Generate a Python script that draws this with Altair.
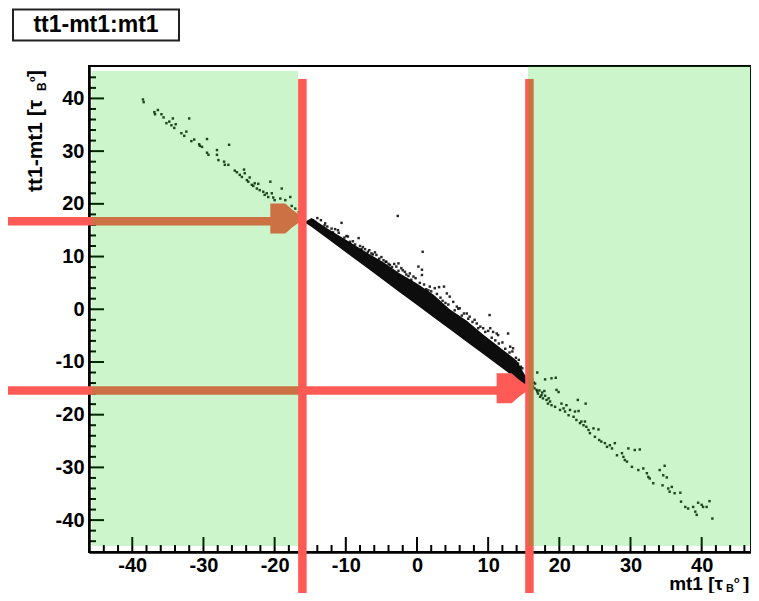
import altair as alt
import pandas as pd

# ---------------- data ----------------
# scattered points (mt1, tt1-mt1)
pts_x = [-38.5, -38.4, -36.9, -36.8, -36.4, -35.9, -35.6, -35.2, -34.8, -34.3, -34.5, -34.1, -33.9,
         -32.0, -33.1, -32.7, -32.4, -31.7, -31.3, -30.6, -30.5, -30.2, -29.5, -29.5, -29.3, -28.1,
         -28.1, -27.9, -27.1, -27.0, -26.5, -26.4, -25.6, -25.3, -24.9, -24.6, -24.3, -24.2, -23.9,
         -23.7, -23.5, -23.2, -23.0, -22.8, -22.5, -22.3, -22.1, -21.6, -21.4, -21.1, -20.9, -20.6,
         -20.4, -20.2, -20.0, -19.0, -19.2, -18.5, -17.8, -17.6, -17.1,
         -18.2, -17.5, -16.9, -16.6, -16.3, -15.9, -15.6, -15.9,
         -14.6, -14.3, -12.9, -12.6, -11.5, -10.6, -11.1, -9.7, -8.2, -9.4, -7.8, -7.3, -6.7, -6.4,
         -5.7, -4.7, -4.3, -3.8, -2.9, -2.6, -2.2, -1.7, -1.0, -0.5, 0.2, 0.7, 0.7, 0.8, -2.7, 1.8,
         2.5, 3.1, 3.8, 4.2, 4.6, 5.1, 5.6, 6.0, 7.0, 7.4, 8.4, 8.9, 9.3, 10.2, 10.3, 10.7, 11.2,
         11.4, 12.8, 13.1, 13.5, 13.9, 14.2, 14.6,
         -14.0, -13.5, -13.0, -12.0, -11.8, -11.0, -10.2, -9.9, -9.0, -8.7, -8.0, -7.6, -6.9, -6.2,
         -5.9, -5.3, -5.0, -4.4, -4.0, -3.5, -3.2, -2.6, -2.0, -1.5, -1.2, -0.8, -0.2, 0.4, 1.0,
         1.3, 1.6, 2.0, 2.8, 3.3, 3.6, 4.0, 4.4, 5.3, 5.8, 6.3, 6.6, 7.2, 7.8, 8.1, 8.6, 9.6, 10.0,
         10.5, 11.0, 11.5, 12.0, 12.4, 13.0, 13.4, 14.3, 14.8,
         16.9, 18.0, 18.9, 19.5, 16.6, 16.8, 17.0, 17.3, 17.5, 17.7, 18.2, 18.4, 18.7, 18.9, 19.4,
         19.6, 19.9, 20.1, 20.3, 20.6, 20.8, 21.0, 21.3, 21.5, 22.0, 22.2, 22.4, 22.6, 22.7, 22.9,
         23.1, 23.4, 23.6, 23.7, 23.8, 24.1, 24.3, 24.8, 25.0, 25.5, 25.6, 25.9, 26.4, 26.7, 27.1,
         27.4, 27.8, 28.1, 28.8, 29.0, 29.2, 29.5, 29.7, 30.2, 30.6, 31.3, 31.1, 31.8, 32.3, 32.5,
         32.7, 33.2, 34.1, 34.5, 34.6, 34.8, 35.1, 35.3, 35.5, 35.8, 36.2, 37.0, 37.1, 37.7, 38.1,
         38.8, 39.1, 39.3, 39.5, 40.0, 40.2, 40.7, 41.1, 41.5,
         16.3, 16.5, 16.9, 17.2, 17.6, 18.0, 18.5, 16.2, 16.4, 17.9]
pts_y = [39.8, 39.3, 37.4, 37.0, 37.8, 37.0, 36.4, 35.3, 35.6, 36.2, 34.9, 34.4, 35.1,
         36.2, 33.4, 32.9, 33.7, 31.9, 32.2, 31.3, 31.0, 30.8, 32.3, 29.7, 29.3, 29.3,
         30.2, 28.3, 28.0, 27.4, 27.4, 31.2, 26.3, 26.0, 25.5, 25.1, 26.5, 25.8, 24.5,
         24.2, 25.0, 23.6, 23.4, 23.9, 22.9, 23.8, 22.6, 22.3, 21.7, 22.0, 21.3, 24.2,
         22.0, 21.2, 20.7, 22.9, 21.0, 20.7, 21.3, 19.6, 19.1,
         19.0, 18.3, 17.8, 18.4, 17.2, 16.9, 16.5, 17.6,
         16.9, 16.6, 16.3, 15.7, 15.2, 16.4, 15.0, 13.8, 13.5, 12.8, 11.4, 11.4, 11.2, 10.6,
         10.3, 9.3, 9.0, 8.4, 8.1, 8.7, 7.8, 7.1, 6.8, 6.2, 8.1, 7.5, 6.5, 10.9, 17.7, 4.3,
         4.0, 4.2, 4.3, 3.0, 2.4, 1.4, 0.5, 0.2, -0.8, -1.4, -2.7, -3.3, -3.6, -1.1, -3.6, -4.3, -4.6,
         -4.9, -4.6, -7.1, -7.4, -9.2, -10.3, -10.9,
         17.3, 16.9, 15.9, 15.3, 14.6, 14.5, 13.6, 13.9, 12.9, 12.3, 12.0, 11.8, 10.9, 10.4,
         10.8, 9.6, 9.9, 9.0, 8.6, 8.0, 8.6, 7.3, 7.4, 6.6, 6.3, 5.6, 5.9, 5.0, 4.7,
         3.8, 3.6, 3.4, 2.9, 2.2, 1.6, 1.2, 0.9, -0.2, 0.1, -1.2, -0.8, -1.8, -2.4, -2.0, -3.6, -4.3, -4.1,
         -5.4, -5.9, -6.5, -6.3, -7.5, -8.2, -8.0, -9.6, -11.2,
         -12.0, -13.3, -13.1, -13.0, -14.1, -15.3, -16.0, -16.6, -16.3, -16.9, -17.2, -17.9, -17.5, -18.2, -18.5,
         -15.3, -15.7, -19.1, -17.9, -18.8, -19.4, -18.2, -20.1, -19.1, -20.4, -19.4, -21.0, -17.2, -19.3, -21.6,
         -21.3, -22.0, -21.3, -17.9, -22.3, -22.9, -23.5, -22.6, -24.2, -22.8, -24.8, -25.1, -25.4, -26.1, -25.8,
         -26.4, -25.4, -27.7, -27.3, -28.0, -28.6, -28.9, -26.4, -29.9, -26.7, -26.6, -30.5, -30.2, -31.1, -31.8,
         -32.1, -33.0, -30.5, -33.4, -31.5, -29.7, -31.9, -34.0, -34.6, -33.7, -34.9, -34.8, -36.5, -37.5, -37.8,
         -37.5, -38.4, -39.0, -36.7, -37.1, -37.5, -37.5, -36.4, -39.7,
         -14.6, -15.0, -15.6, -15.4, -15.8, -16.4, -16.9, -13.3, -13.9, -15.5]

# solid dense core of the band: mt1 and upper / lower edge of tt1-mt1
core_x = [-15.6, -14.8, -12.7, -9.4, -7.1, -4.7, -2.4, 0.0, 2.3, 4.6, 7.0, 9.3, 11.7, 14.0, 15.2, 15.6]
core_hi = [16.7, 17.3, 15.4, 12.7, 10.8, 8.9, 6.8, 4.9, 2.8, 0.0, -2.2, -4.8, -7.3, -9.7, -12.5, -13.8]
core_lo = [16.3, 15.6, 13.5, 10.2, 7.9, 5.5, 3.2, 0.8, -1.5, -3.8, -6.2, -8.5, -10.9, -13.2, -14.4, -14.8]

# green selected regions
green_x1 = [-45.7, 15.6]
green_x2 = [-16.7, 46.9]
green_y1 = [-44.9, -44.9]
green_y2 = [45.2, 46.15]

# red cut lines and arrows
cut_x = [-16.1, 15.8]
cut_top = [43.7, 43.7]
cut_bottom = [-60.0, -60.0]
arrow_y = [16.7, -15.4]
arrow_x1 = [-60.0, -60.0]
arrow_x2 = [-18.0, 13.5]
head_x = [-18.5, 13.3]
head_y = [17.2, -15.0]

# axis ticks
x_major = [-40, -30, -20, -10, 0, 10, 20, 30, 40]
x_minor = [v for v in range(-44, 47, 2) if v % 10 != 0]
y_major = [-40, -30, -20, -10, 0, 10, 20, 30, 40]
y_minor = [v for v in range(-44, 45, 2) if v % 10 != 0]

# ---------------- chart ----------------
W, H = 662, 486
FONT = "Liberation Sans"
RED = "#ff5a55"

xs = alt.Scale(domain=[-46.08, 46.93], nice=False, zero=False)
ys = alt.Scale(domain=[-46.05, 46.15], nice=False, zero=False)

common_axis = dict(title=None, grid=False, ticks=False, labelFont=FONT, labelFontSize=20,
                   labelFontWeight="bold", labelColor="black", domainColor="black",
                   domainWidth=2.5, labelFlush=False, labelOverlap=False,
                   labelExpr="datum.value + ''")
xaxis = alt.Axis(values=x_major, labelPadding=3, **common_axis)
yaxis = alt.Axis(values=y_major, labelPadding=5, **common_axis)


def X(f):
    return alt.X(f, type="quantitative", scale=xs, axis=xaxis)


def Y(f):
    return alt.Y(f, type="quantitative", scale=ys, axis=yaxis)


pts_df = pd.DataFrame({"x": pts_x, "y": pts_y})
core_df = pd.DataFrame({"x": core_x, "hi": core_hi, "lo": core_lo})
green_df = pd.DataFrame({"x1": green_x1, "x2": green_x2, "y1": green_y1, "y2": green_y2})
cut_df = pd.DataFrame({"x": cut_x, "top": cut_top, "bottom": cut_bottom})
arrow_df = pd.DataFrame({"y": arrow_y, "x1": arrow_x1, "x2": arrow_x2})
head_df = pd.DataFrame({"x": head_x, "y": head_y})
one = pd.DataFrame({"k": [0]})

core = alt.Chart(core_df).mark_area(color="black", opacity=0.95).encode(
    x=X("x"), y=Y("hi"), y2=alt.Y2("lo"))

points = alt.Chart(pts_df).mark_square(size=6, color="black", opacity=0.85).encode(
    x=X("x"), y=Y("y"))

xmaj = alt.Chart(pd.DataFrame({"v": x_major})).mark_rule(color="black", strokeWidth=2).encode(
    x=X("v"), y=alt.value(H), y2=alt.value(H - 15))
xmin = alt.Chart(pd.DataFrame({"v": x_minor})).mark_rule(color="black", strokeWidth=2).encode(
    x=X("v"), y=alt.value(H), y2=alt.value(H - 7))
ymaj = alt.Chart(pd.DataFrame({"v": y_major})).mark_rule(color="black", strokeWidth=2).encode(
    y=Y("v"), x=alt.value(0), x2=alt.value(15))
ymin = alt.Chart(pd.DataFrame({"v": y_minor})).mark_rule(color="black", strokeWidth=2).encode(
    y=Y("v"), x=alt.value(0), x2=alt.value(7))

cuts = alt.Chart(cut_df).mark_rule(color=RED, strokeWidth=8.5, clip=False).encode(
    x=X("x"), y=Y("top"), y2=alt.Y2("bottom"))
arrows = alt.Chart(arrow_df).mark_rule(color=RED, strokeWidth=8.5, clip=False).encode(
    y=Y("y"), x=X("x1"), x2=alt.X2("x2"))
heads = alt.Chart(head_df).mark_point(
    shape="M-1,-1 L0,-1 L0.45,-0.6 L1,-0.2 L1,0.2 L0.45,0.6 L0,1 L-1,1 Z",
    filled=True, size=900, color=RED, opacity=1, clip=False).encode(x=X("x"), y=Y("y"))

green = alt.Chart(green_df).mark_rect(color="#00cc00", opacity=0.2).encode(
    x=X("x1"), x2=alt.X2("x2"), y=Y("y1"), y2=alt.Y2("y2"))

# title box
box = alt.Chart(one).mark_rect(fill="white", stroke="#222222", strokeWidth=2, clip=False).encode(
    x=alt.value(-76), x2=alt.value(90), y=alt.value(-56.5), y2=alt.value(-25.5))
box_text = alt.Chart(one).mark_text(text="tt1-mt1:mt1", font=FONT, fontSize=23, fontWeight="bold",
                                    align="center", baseline="middle", color="black").encode(
    x=alt.value(7), y=alt.value(-41))


def txt(s, x, y, size, angle=0, align="left"):
    return alt.Chart(one).mark_text(text=s, font=FONT, fontSize=size, fontWeight="bold",
                                    align=align, baseline="alphabetic", angle=angle,
                                    color="black").encode(x=alt.value(x), y=alt.value(y))


# x axis title: mt1 [tau_{B^0}]
xt1 = txt("mt1 [τ", 634, 524, 19, align="right")
xt2 = txt("B", 637, 526, 11)
xt3 = txt("o", 645, 517, 9)
xt4 = txt("]", 654, 524, 19)

# y axis title: tt1-mt1 [tau_{B^0}]
yt1 = txt("tt1-mt1 [τ", -47, 126, 21, angle=270)
yt2 = txt("B", -43, 25, 12, angle=270)
yt3 = txt("o", -54, 16, 9, angle=270)
yt4 = txt("]", -47, 11, 21, angle=270)

chart = alt.layer(
    core, points, xmaj, xmin, ymaj, ymin, cuts, arrows, heads, green,
    box, box_text, xt1, xt2, xt3, xt4, yt1, yt2, yt3, yt4
).properties(
    width=W, height=H,
    autosize=alt.AutoSizeParams(type="none"),
    padding={"left": 81, "top": 58, "right": 0, "bottom": 41},
).configure_view(stroke="black", strokeWidth=2)

chart.save("out.html", embed_options={"renderer": "svg", "actions": False})
